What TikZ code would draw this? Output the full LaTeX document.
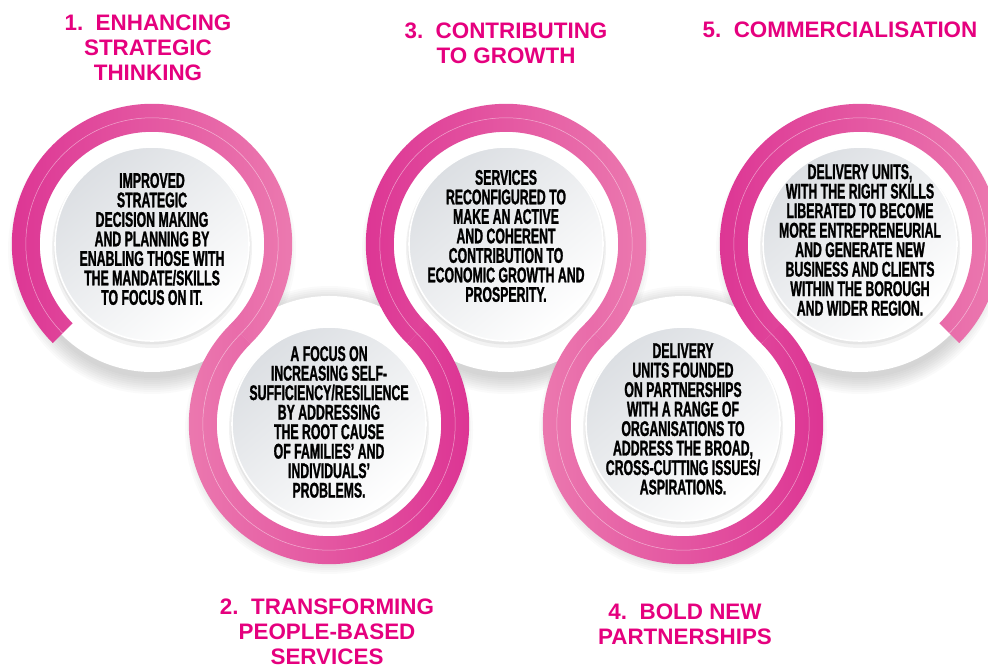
\documentclass[tikz,border=0pt]{standalone}
\usepackage{fontspec}
\setmainfont{Liberation Sans}
\newfontfamily\narrowfont{Liberation Sans}[FakeStretch=0.58, FakeBold=1.2]
\usetikzlibrary{calc}
\definecolor{ringdark}{HTML}{DC3393}
\definecolor{ringlight}{HTML}{EC7BB0}
\definecolor{headpink}{HTML}{E5007E}
\definecolor{discgray}{HTML}{DCDFE3}
\newcommand\ringout{140.2}
\newcommand\ringin{112.2}
\newcommand\ringmid{126.2}
% one pink piece of the ring: centre, start, end, left colour, right colour
\newcommand\ringpiece[5]{%
  \shade[left color=#4, right color=#5]
    ($(#1)+(#2:\ringout)$) arc[start angle=#2, end angle=#3, radius=\ringout]
    -- ($(#1)+(#3:\ringin)$) arc[start angle=#3, end angle=#2, radius=\ringin] -- cycle;
  \draw[white, opacity=.5, line width=.25pt]
    ($(#1)+(#2:\ringmid)$) arc[start angle=#2, end angle=#3, radius=\ringmid];}
\tikzset{
  heading/.style={text=headpink, font=\fontsize{11.2}{12.4}\selectfont\bfseries, align=center},
  blurb/.style={text=black, font=\narrowfont\fontsize{10.6}{9.75}\selectfont\bfseries, align=center},
}
\begin{document}
\begin{tikzpicture}[x=0.5pt, y=0.5pt]
  \useasboundingbox (0,0) rectangle (988,668);
  \coordinate (c1) at (152,424);
  \coordinate (c2) at (329,244);
  \coordinate (c3) at (506,424);
  \coordinate (c4) at (683,244);
  \coordinate (c5) at (860,424);
  % soft shadows and white plates
  \foreach \c in {c1,c2,c3,c4,c5} {
    \foreach \k in {0,...,8}
      \fill[black, opacity=.02] ($(\c)+(0,-6)$) circle[radius=128+2*\k];
  }
  \foreach \c in {c1,c2,c3,c4,c5}
    \fill[white] (\c) circle[radius=128];
  % the pink band
  \ringpiece{c1}{225}{-45.2}{ringdark}{ringlight}
  \ringpiece{c2}{134.2}{405.8}{ringlight}{ringdark}
  \ringpiece{c3}{225.2}{-45.2}{ringdark}{ringlight}
  \ringpiece{c4}{134.2}{405.8}{ringlight}{ringdark}
  \ringpiece{c5}{225.2}{-45}{ringdark}{ringlight}
  % grey discs
  \foreach \c in {c1,c2,c3,c4,c5} {
    \fill[black, opacity=.05] ($(\c)+(0,-4)$) circle[radius=100];
    \fill[black, opacity=.05] ($(\c)+(0,-2)$) circle[radius=98.5];
    \shade[top color=discgray, bottom color=white, shading angle=40] (\c) circle[radius=97];
    \draw[white, line width=.8pt] (\c) circle[radius=97];
  }
  % texts in the discs
  \node[blurb] (t1) at ($(c1)+(0,5)$) {IMPROVED\\STRATEGIC\\DECISION MAKING\\AND PLANNING BY\\ENABLING THOSE WITH\\THE MANDATE/SKILLS\\TO FOCUS ON IT.};
  \node[blurb] (t2) at ($(c2)+(0,2)$) {A FOCUS ON\\INCREASING SELF-\\SUFFICIENCY/RESILIENCE\\BY ADDRESSING\\THE ROOT CAUSE\\OF FAMILIES’ AND\\INDIVIDUALS’\\PROBLEMS.};
  \node[blurb] (t3) at ($(c3)+(0,8)$) {SERVICES\\RECONFIGURED TO\\MAKE AN ACTIVE\\AND COHERENT\\CONTRIBUTION TO\\ECONOMIC GROWTH AND\\PROSPERITY.};
  \node[blurb] (t4) at ($(c4)+(0,5)$) {DELIVERY\\UNITS FOUNDED\\ON PARTNERSHIPS\\WITH A RANGE OF\\ORGANISATIONS TO\\ADDRESS THE BROAD,\\CROSS-CUTTING ISSUES/\\ASPIRATIONS.};
  \node[blurb] (t5) at ($(c5)+(0,4)$) {DELIVERY UNITS,\\WITH THE RIGHT SKILLS\\LIBERATED TO BECOME\\MORE ENTREPRENEURIAL\\AND GENERATE NEW\\BUSINESS AND CLIENTS\\WITHIN THE BOROUGH\\AND WIDER REGION.};
  % headings
  \node[heading] (h1) at (148,620) {1.~~ENHANCING\\STRATEGIC\\THINKING};
  \node[heading] (h2) at (327,36) {2.~~TRANSFORMING\\PEOPLE-BASED\\SERVICES};
  \node[heading] (h3) at (506,625) {3.~~CONTRIBUTING\\TO GROWTH};
  \node[heading] (h4) at (685,44) {4.~~BOLD NEW\\PARTNERSHIPS};
  \node[heading] (h5) at (840,638) {5.~~COMMERCIALISATION};
\end{tikzpicture}
\end{document}
